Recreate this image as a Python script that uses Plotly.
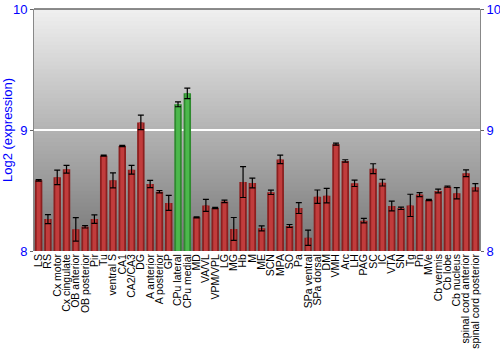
import plotly.graph_objects as go

regions = ["LS", "RS", "Cx motor", "Cx cingulate", "OB anterior", "OB posterior", "Pir", "Tu",
           "ventral S", "CA1", "CA2/CA3", "DG", "A anterior", "A posterior", "GP", "CPu lateral",
           "CPu medial", "MD", "VA/VL", "VPM/VPL", "LG", "MG", "Hb", "M", "ME", "SCN", "MPA", "SO",
           "Pa", "SPa ventral", "SPa dorsal", "DM", "VMH", "Arc", "LH", "PAG", "SC", "IC", "VTA",
           "SN", "Tg", "Pn", "MVe", "Cb vermis", "Cb lobe", "Cb nucleus", "spinal cord anterior",
           "spinal cord posterior"]
values = [8.584, 8.264, 8.609, 8.675, 8.179, 8.200, 8.264, 8.788,
          8.584, 8.868, 8.672, 9.063, 8.554, 8.490, 8.397, 9.212,
          9.303, 8.278, 8.377, 8.355, 8.410, 8.182, 8.570, 8.562, 8.187, 8.485, 8.757, 8.207,
          8.355, 8.110, 8.449, 8.457, 8.883, 8.744, 8.559, 8.251, 8.680, 8.565, 8.372,
          8.353, 8.377, 8.466, 8.421, 8.496, 8.532, 8.477, 8.642,
          8.526]
errors = [0.006, 0.037, 0.060, 0.032, 0.097, 0.010, 0.035, 0.004,
          0.062, 0.005, 0.036, 0.060, 0.030, 0.010, 0.062, 0.020,
          0.043, 0.005, 0.050, 0.005, 0.010, 0.095, 0.128, 0.040, 0.020, 0.018, 0.035, 0.012,
          0.045, 0.063, 0.055, 0.060, 0.008, 0.010, 0.026, 0.018, 0.041, 0.028, 0.041,
          0.010, 0.092, 0.017, 0.005, 0.015, 0.005, 0.047, 0.028,
          0.030]
highlight = ["CPu lateral", "CPu medial"]

y_range = [8, 10]
y_ticks = [8, 9, 10]

dark = ["#2f8a2f" if r in highlight else "#8c1f1f" for r in regions]
light = ["#4cb84c" if r in highlight else "#c13c3c" for r in regions]

fig = go.Figure()

# background vertical gradient via nested strips (each covers down to bottom)
n = 60
top = (240, 240, 240)
bot = (118, 118, 118)
shapes = []
for i in range(n):
    t = (i + 0.5) / n
    c = tuple(int(round(top[k] + (bot[k] - top[k]) * t)) for k in range(3))
    shapes.append(dict(type="rect", xref="x domain", yref="y domain",
                       x0=0, x1=1, y0=0, y1=1 - i / n,
                       fillcolor="rgb(%d,%d,%d)" % c, line=dict(width=0), layer="below"))
shapes.append(dict(type="line", xref="x domain", yref="y domain", x0=0, x1=1, y0=1, y1=1,
                   line=dict(color="#666666", width=1.5)))

fig.add_trace(go.Bar(x=regions, y=values, width=0.8,
                     marker=dict(color=dark, line=dict(width=0)), hoverinfo="skip"))
fig.add_trace(go.Bar(x=regions, y=values, width=0.42,
                     marker=dict(color=light, line=dict(width=0)),
                     error_y=dict(type="data", array=errors, color="black", thickness=1.2, width=3)))
fig.add_trace(go.Scatter(x=regions, y=values, yaxis="y2", mode="markers",
                         marker=dict(opacity=0), hoverinfo="skip", showlegend=False))

fig.update_layout(
    width=500, height=350,
    margin=dict(l=34, r=20, t=9, b=99),
    barmode="overlay",
    showlegend=False,
    paper_bgcolor="white", plot_bgcolor="rgba(0,0,0,0)",
    font=dict(family="Liberation Sans, Arial, sans-serif"),
    shapes=shapes,
    xaxis=dict(tickangle=-90, tickfont=dict(size=10.5, color="black"), showgrid=False,
               tickmode="array", tickvals=regions, ticktext=regions,
               ticks="", showline=False, range=[-0.5, len(regions) - 0.5], automargin=False),
    yaxis=dict(range=y_range, tickvals=y_ticks, tickfont=dict(size=13, color="blue"),
               title=dict(text="Log2 (expression)", font=dict(size=13, color="blue"), standoff=2),
               showgrid=True, gridcolor="white", gridwidth=1.5, zeroline=False, automargin=False,
               showline=True, linecolor="#888888", linewidth=1, ticks="outside", ticklen=3,
               tickcolor="#666666"),
    yaxis2=dict(range=y_range, tickvals=y_ticks, tickfont=dict(size=13, color="blue"),
                overlaying="y", side="right", showgrid=False, zeroline=False, automargin=False,
                showline=True, linecolor="#888888", linewidth=1, ticks="outside", ticklen=3,
                tickcolor="#666666"),
)

fig.write_html("out.html")
